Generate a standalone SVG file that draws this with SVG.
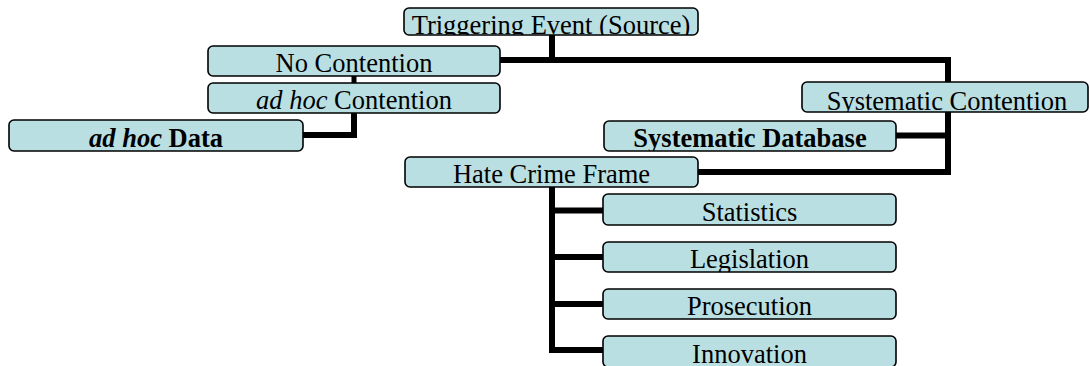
<svg xmlns="http://www.w3.org/2000/svg" width="1090" height="366" viewBox="0 0 1090 366">
<style>
.box{fill:#badfe2;stroke:#000;stroke-width:1.6}
.t{font-family:"Liberation Serif","Times New Roman",serif;font-size:26.5px;fill:#000;text-anchor:middle}
.b{font-weight:bold}
.c{fill:none;stroke:#000;stroke-width:6;stroke-linejoin:miter;stroke-linecap:butt}
</style>
<defs>
<clipPath id="k1"><rect x="404" y="8" width="294" height="27"/></clipPath>
<clipPath id="k2"><rect x="208" y="46" width="292" height="30"/></clipPath>
<clipPath id="k3"><rect x="208" y="83" width="292" height="30"/></clipPath>
<clipPath id="k4"><rect x="9" y="120" width="294" height="31"/></clipPath>
<clipPath id="k5"><rect x="802" y="82" width="286" height="30"/></clipPath>
<clipPath id="k6"><rect x="604" y="121" width="292" height="30"/></clipPath>
<clipPath id="k7"><rect x="405" y="157" width="293" height="30"/></clipPath>
<clipPath id="k8"><rect x="603" y="194" width="293" height="31"/></clipPath>
<clipPath id="k9"><rect x="603" y="242" width="293" height="30"/></clipPath>
<clipPath id="k10"><rect x="603" y="289" width="293" height="30"/></clipPath>
</defs>
<g id="connectors">
<path class="c" d="M552,35 V60"/>
<path class="c" d="M500,60 H948 V82"/>
<path class="c" style="stroke-width:5" d="M354,76 V83"/>
<path class="c" d="M354,113 V135 H303"/>
<path class="c" d="M948,112 V172 H698"/>
<path class="c" d="M948,135.5 H896"/>
<path class="c" d="M552,187 V350 H603"/>
<path class="c" d="M552,210.5 H603"/>
<path class="c" d="M552,257 H603"/>
<path class="c" d="M552,304 H603"/>
</g>
<g id="triggering">
<rect class="box" x="404" y="8" width="294" height="27" rx="5"/>
<text class="t" x="551" y="33.5" clip-path="url(#k1)">Triggering Event (Source)</text>
</g>
<g id="no-contention">
<rect class="box" x="208" y="46" width="292" height="30" rx="5"/>
<text class="t" x="354" y="71.7" clip-path="url(#k2)">No Contention</text>
</g>
<g id="adhoc-contention">
<rect class="box" x="208" y="83" width="292" height="30" rx="5"/>
<text class="t" x="354" y="109.3" clip-path="url(#k3)"><tspan font-style="italic">ad hoc</tspan> Contention</text>
</g>
<g id="adhoc-data">
<rect class="box" x="9" y="120" width="294" height="31" rx="5"/>
<text class="t b" x="156" y="146.7" clip-path="url(#k4)"><tspan font-style="italic">ad hoc</tspan> Data</text>
</g>
<g id="systematic-contention">
<rect class="box" x="802" y="82" width="286" height="30" rx="5"/>
<text class="t" x="947" y="110" clip-path="url(#k5)">Systematic Contention</text>
</g>
<g id="systematic-database">
<rect class="box" x="604" y="121" width="292" height="30" rx="5"/>
<text class="t b" x="750" y="147.3" clip-path="url(#k6)">Systematic Database</text>
</g>
<g id="hate-crime-frame">
<rect class="box" x="405" y="157" width="293" height="30" rx="5"/>
<text class="t" x="551.5" y="183.3" clip-path="url(#k7)">Hate Crime Frame</text>
</g>
<g id="statistics">
<rect class="box" x="603" y="194" width="293" height="31" rx="5"/>
<text class="t" x="749.5" y="220.7" clip-path="url(#k8)">Statistics</text>
</g>
<g id="legislation">
<rect class="box" x="603" y="242" width="293" height="30" rx="5"/>
<text class="t" x="749.5" y="268.3" clip-path="url(#k9)">Legislation</text>
</g>
<g id="prosecution">
<rect class="box" x="603" y="289" width="293" height="30" rx="5"/>
<text class="t" x="749.5" y="315" clip-path="url(#k10)">Prosecution</text>
</g>
<g id="innovation">
<rect class="box" x="603" y="336" width="293" height="31" rx="5"/>
<text class="t" x="749.5" y="362.5">Innovation</text>
</g>
</svg>
